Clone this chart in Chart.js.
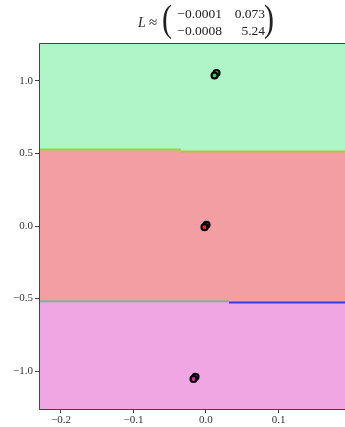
<!DOCTYPE html>
<html>
<head>
<meta charset="utf-8">
<script src="https://cdn.jsdelivr.net/npm/chart.js@4/dist/chart.umd.min.js"></script>
<style>
  html, body { margin: 0; padding: 0; background: #fff; overflow: hidden; }
  canvas { display: block; }
</style>
</head>
<body>
<canvas id="c" width="345" height="427"></canvas>
<script>
// Axis limits and tick positions
const xRange = [-0.2303, 0.1917];
const yRange = [-1.262, 1.262];
const xTicks = [-0.2, -0.1, 0.0, 0.1];
const yTicks = [-1.0, -0.5, 0.0, 0.5, 1.0];

// Decision boundaries (step-shaped)
const upperBoundaryX = [-0.2303, -0.0345, -0.0345, 0.1917];
const upperBoundaryY = [0.528, 0.528, 0.514, 0.514];
const lowerBoundaryX = [-0.2303, 0.0317, 0.0317, 0.1917];
const lowerBoundaryY = [-0.519, -0.519, -0.528, -0.528];

// Class samples (two overlapping points each)
const greenX = [0.0145, 0.0118];
const greenY = [1.055, 1.038];
const redX = [0.0007, -0.0020];
const redY = [0.008, -0.008];
const magentaX = [-0.0145, -0.0172];
const magentaY = [-1.040, -1.055];

// Matrix shown in the title
const matrixRows = [["\u22120.0001", "0.073"], ["\u22120.0008", "5.24"]];

const pts = (xs, ys) => xs.map((x, i) => ({ x, y: ys[i] }));
const fmt = v => (v < 0 ? "\u2212" : "") + Math.abs(v).toFixed(1);

const serif = "'Liberation Serif', 'DejaVu Serif', serif";

const titlePlugin = {
  id: 'matrixTitle',
  afterDraw(chart) {
    const ctx = chart.ctx;
    ctx.save();
    ctx.fillStyle = '#222';
    ctx.textBaseline = 'middle';
    ctx.font = "italic 14px " + serif;
    ctx.textAlign = 'left';
    ctx.fillText('L', 138, 23);
    ctx.font = "15px " + serif;
    ctx.fillText('\u2248', 149, 23);
    // big parentheses
    ctx.save();
    ctx.font = "30px " + serif;
    ctx.translate(0, 21);
    ctx.scale(1, 1.25);
    ctx.textAlign = 'center';
    ctx.fillText('(', 167, 0);
    ctx.fillText(')', 269, 0);
    ctx.restore();
    ctx.font = "13.5px " + serif;
    ctx.textAlign = 'right';
    ctx.fillText(matrixRows[0][0], 222, 14);
    ctx.fillText(matrixRows[1][0], 222, 31);
    ctx.fillText(matrixRows[0][1], 265, 14);
    ctx.fillText(matrixRows[1][1], 265, 31);
    // axes frame
    const a = chart.chartArea;
    ctx.strokeStyle = '#444';
    ctx.lineWidth = 1;
    ctx.beginPath();
    ctx.moveTo(a.left + 0.5, a.bottom);
    ctx.lineTo(a.left + 0.5, a.top + 0.5);
    ctx.lineTo(a.right, a.top + 0.5);
    ctx.stroke();
    ctx.restore();
  }
};

const pointDs = (xs, ys, color) => ({
  type: 'scatter',
  data: pts(xs, ys),
  backgroundColor: color,
  borderColor: '#000',
  borderWidth: 2.2,
  pointRadius: 3,
  showLine: false,
  order: 0
});

const fillDs = (xs, ys, fill, color, order) => ({
  data: pts(xs, ys),
  fill: fill,
  backgroundColor: color,
  borderWidth: 0,
  borderColor: 'rgba(0,0,0,0)',
  pointRadius: 0,
  order: order
});

const lineDs = (xs, ys, color) => ({
  data: pts(xs, ys),
  fill: false,
  borderColor: color,
  borderWidth: 2,
  pointRadius: 0,
  order: 1
});

new Chart(document.getElementById('c'), {
  type: 'line',
  data: {
    datasets: [
      fillDs(upperBoundaryX, upperBoundaryY, 'end', '#aef6c8', 5),   // 0: region above
      fillDs(lowerBoundaryX, lowerBoundaryY, 0, '#f29ea2', 4),       // 1: region between
      fillDs(lowerBoundaryX, lowerBoundaryY, 'start', '#f0a6e2', 6), // 2: region below
      lineDs(upperBoundaryX.slice(0, 2), upperBoundaryY.slice(0, 2), '#98d83c'),
      lineDs(upperBoundaryX.slice(2), upperBoundaryY.slice(2), '#b8c03c'),
      lineDs(lowerBoundaryX.slice(0, 2), lowerBoundaryY.slice(0, 2), '#7fb49c'),
      lineDs(lowerBoundaryX.slice(2), lowerBoundaryY.slice(2), '#3a3ae8'),
      pointDs(greenX, greenY, '#2fd04a'),
      pointDs(redX, redY, '#e8262a'),
      pointDs(magentaX, magentaY, '#d82aa8')
    ]
  },
  options: {
    responsive: false,
    animation: false,
    devicePixelRatio: 1,
    layout: { autoPadding: false, padding: { top: 43, left: 0, right: 0, bottom: 0 } },
    plugins: { legend: { display: false }, tooltip: { enabled: false }, title: { display: false } },
    scales: {
      x: {
        type: 'linear',
        min: xRange[0], max: xRange[1],
        afterBuildTicks: s => { s.ticks = xTicks.map(v => ({ value: v })); },
        afterFit: s => { s.height = 18; },
        ticks: { font: { family: serif, size: 11 }, color: '#333', padding: 1, maxRotation: 0, callback: v => fmt(v) },
        grid: { drawOnChartArea: false, drawTicks: true, tickLength: 4, color: '#444' },
        border: { display: true, color: '#444', width: 1 }
      },
      y: {
        type: 'linear',
        min: yRange[0], max: yRange[1],
        afterBuildTicks: s => { s.ticks = yTicks.map(v => ({ value: v })); },
        afterFit: s => { s.width = 39; },
        ticks: { font: { family: serif, size: 11 }, color: '#333', padding: 2, callback: v => fmt(v) },
        grid: { drawOnChartArea: false, drawTicks: true, tickLength: 4, color: '#444' },
        border: { display: true, color: '#444', width: 1 }
      }
    }
  },
  plugins: [titlePlugin]
});
</script>
</body>
</html>
